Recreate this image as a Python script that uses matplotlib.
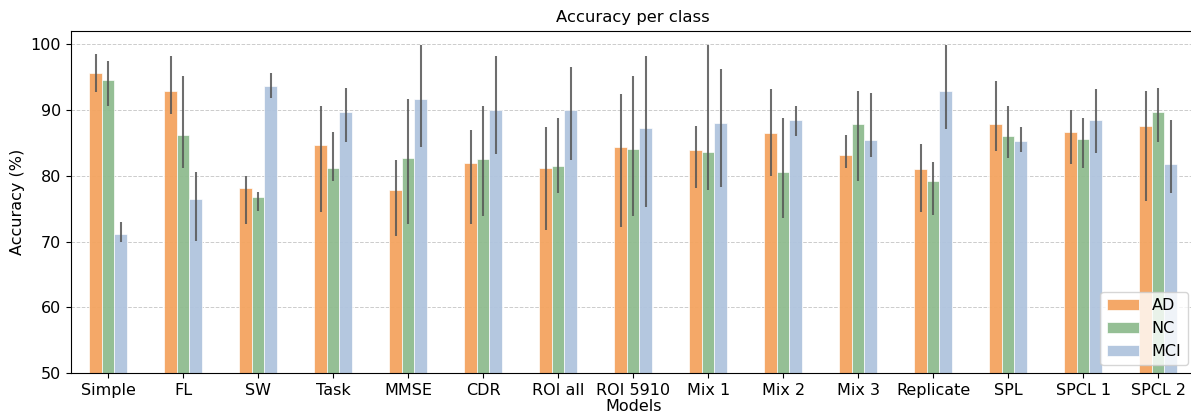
import numpy as np
import matplotlib.pyplot as plt

models = ['Simple', 'FL', 'SW', 'Task', 'MMSE', 'CDR', 'ROI all', 'ROI 5910',
          'Mix 1', 'Mix 2', 'Mix 3', 'Replicate', 'SPL', 'SPCL 1', 'SPCL 2']

ad = [95.6, 92.9, 78.2, 84.7, 77.8, 81.9, 81.1, 84.4, 83.9, 86.5, 83.2, 81.0, 87.9, 86.6, 87.6]
ad_lo = [92.7, 89.4, 72.7, 74.5, 70.9, 72.7, 71.7, 72.2, 78.1, 79.9, 81.2, 74.5, 83.8, 81.7, 76.1]
ad_hi = [98.5, 98.1, 80.0, 90.6, 82.3, 87.0, 87.4, 92.4, 87.6, 93.1, 86.2, 84.8, 94.4, 90.0, 92.8]

nc = [94.5, 86.2, 76.7, 81.2, 82.7, 82.6, 81.4, 84.1, 83.6, 80.5, 87.8, 79.2, 86.0, 85.6, 89.6]
nc_lo = [90.5, 81.2, 74.7, 79.2, 72.7, 73.8, 77.3, 73.8, 77.8, 73.5, 79.2, 74.1, 82.7, 81.2, 85.1]
nc_hi = [97.4, 95.2, 77.5, 86.7, 91.7, 90.5, 88.7, 95.2, 99.9, 88.8, 92.8, 82.1, 90.6, 88.8, 93.3]

mci = [71.2, 76.4, 93.6, 89.6, 91.7, 90.0, 90.0, 87.3, 88.0, 88.4, 85.4, 92.8, 85.2, 88.4, 81.8]
mci_lo = [69.9, 70.1, 91.8, 85.1, 84.3, 83.3, 82.3, 75.2, 78.3, 86.0, 82.8, 87.1, 83.6, 83.4, 77.4]
mci_hi = [73.0, 80.6, 95.6, 93.3, 99.9, 98.2, 96.5, 98.2, 96.2, 90.5, 92.5, 99.9, 87.4, 93.2, 88.5]

series = [('AD', ad, ad_lo, ad_hi, 'sandybrown'),
          ('NC', nc, nc_lo, nc_hi, 'darkseagreen'),
          ('MCI', mci, mci_lo, mci_hi, 'lightsteelblue')]

W, H = 1191, 418
fig = plt.figure(figsize=(W / 100, H / 100), dpi=100)
ax = fig.add_axes([70.7 / W, (H - 373.3) / H, 1125 / W, (373.3 - 30.7) / H])

fs = 11.5
x = np.arange(len(models))
w = 0.5 / 3
for i, (name, vals, lo, hi, col) in enumerate(series):
    vals = np.array(vals)
    yerr = [vals - np.array(lo), np.array(hi) - vals]
    ax.bar(x + (i - 1) * w, vals, w, color=col, alpha=0.95, edgecolor='white',
           linewidth=0.5, label=name, zorder=2)
    ax.errorbar(x + (i - 1) * w, vals, yerr=yerr, fmt='none', ecolor='#555555',
                elinewidth=1.5, alpha=0.85, capsize=0, zorder=3)

ax.set_xlim(-0.5, len(models) - 0.5)
ax.set_ylim(50, 102)
ax.set_yticks([50, 60, 70, 80, 90, 100])
ax.set_xticks(x)
ax.set_xticklabels(models, rotation=0)
ax.tick_params(labelsize=fs)
ax.grid(axis='y', linestyle='--', color='#cccccc', linewidth=0.7, zorder=0)
ax.set_axisbelow(True)
ax.set_title('Accuracy per class', fontsize=11.8)
ax.set_xlabel('Models', fontsize=fs, labelpad=1)
ax.set_ylabel('Accuracy (%)', fontsize=fs)
ax.legend(loc='lower right', fontsize=fs)

fig.savefig('out.png', dpi=100)
